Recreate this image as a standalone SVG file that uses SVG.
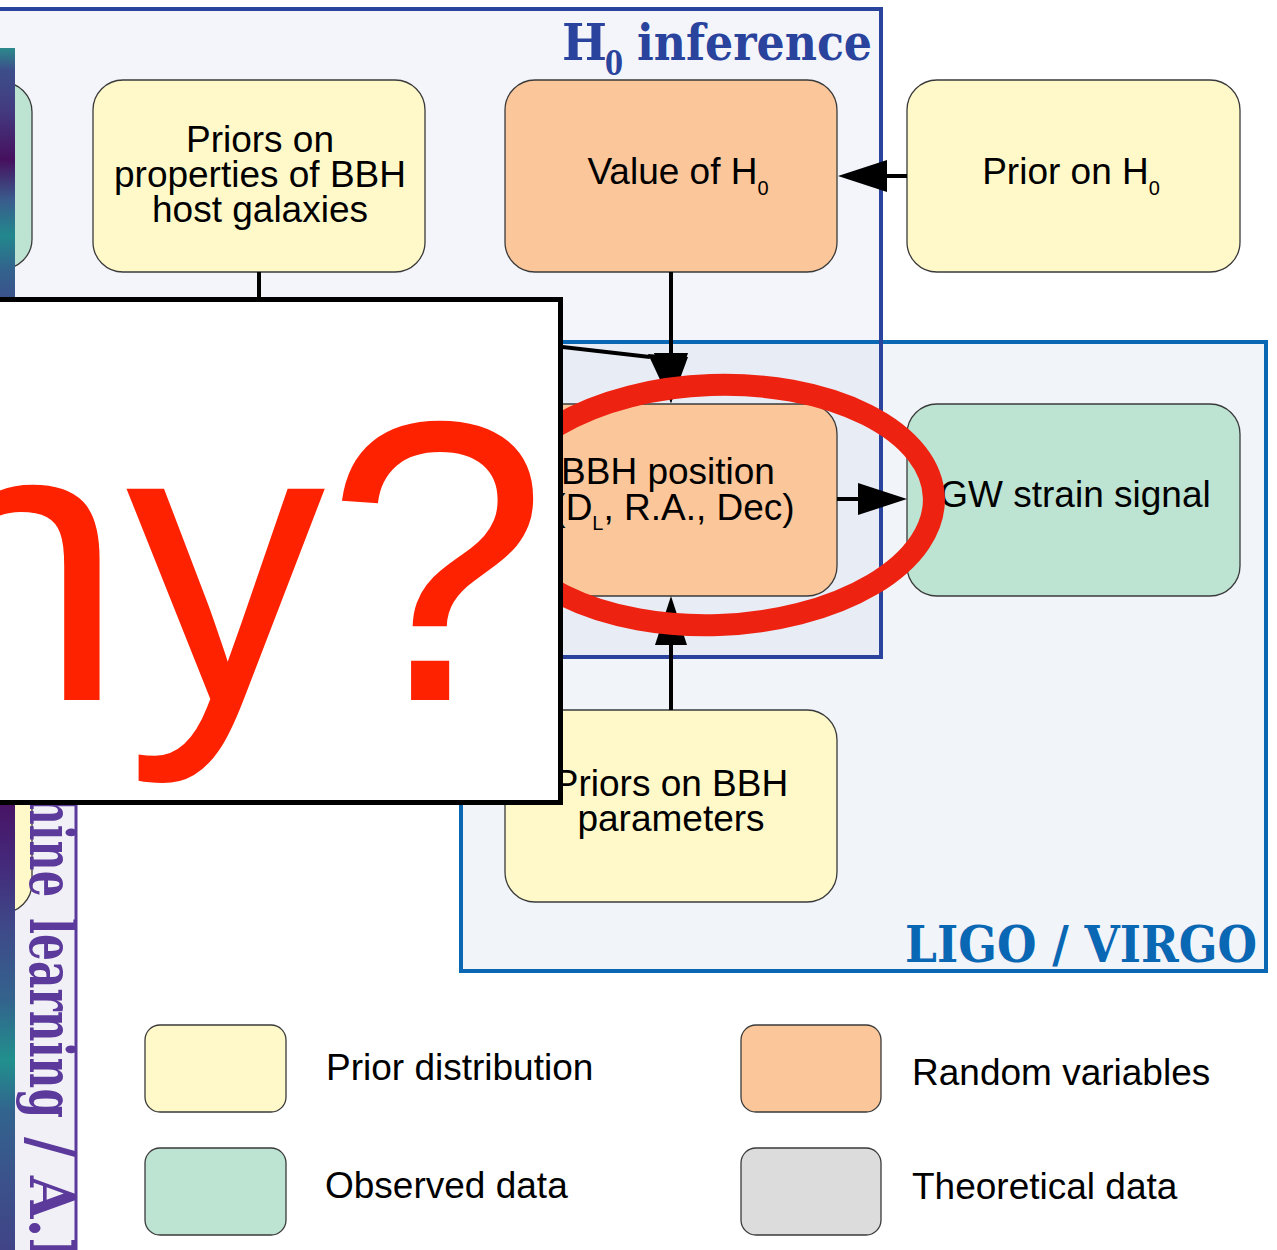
<svg xmlns="http://www.w3.org/2000/svg" width="1277" height="1250" viewBox="0 0 1277 1250">
<defs>
<style>
.node{stroke:#3a3a3a;stroke-width:1.3}
.prior{fill:#fff9c9}
.rv{fill:#fbc79a}
.obs{fill:#bde3d3}
.theo{fill:#dcdcdc}
.lbl{font-family:"Liberation Sans",Arial,sans-serif;font-size:37px;fill:#000}
.mid{text-anchor:middle}
.sub{font-size:20px}
.conn{stroke:#000;stroke-width:4;fill:none}
.head{fill:#000}
.title{font-family:"DejaVu Serif","Liberation Serif",serif;font-weight:bold;font-size:50px}
</style>
<linearGradient id="strip" gradientUnits="userSpaceOnUse" x1="0" y1="48" x2="0" y2="1250">
<stop offset="0" stop-color="#2b8a8c"/>
<stop offset="0.018" stop-color="#3c4f8a"/>
<stop offset="0.052" stop-color="#433a80"/>
<stop offset="0.093" stop-color="#46105e"/>
<stop offset="0.126" stop-color="#3a5b8c"/>
<stop offset="0.156" stop-color="#22888d"/>
<stop offset="0.185" stop-color="#33628d"/>
<stop offset="0.208" stop-color="#3b528b"/>
<stop offset="0.418" stop-color="#2d708e"/>
<stop offset="0.63" stop-color="#481466"/>
<stop offset="0.676" stop-color="#44287a"/>
<stop offset="0.734" stop-color="#3e4a89"/>
<stop offset="0.792" stop-color="#33638d"/>
<stop offset="0.842" stop-color="#21908d"/>
<stop offset="0.884" stop-color="#32648e"/>
<stop offset="0.942" stop-color="#3b528b"/>
<stop offset="1" stop-color="#414487"/>
</linearGradient>
<clipPath id="mlclip"><rect x="15" y="300" width="60" height="960"/></clipPath>
</defs>
<rect x="0" y="0" width="1277" height="1250" fill="#ffffff"/>

<g id="regions">
<rect x="461" y="342" width="805" height="629" fill="#f1f4f9"/>
<rect x="-60" y="9" width="941" height="648" fill="#f4f5fa"/>
<rect x="461" y="342" width="420" height="315" fill="#e8ecf5"/>
<rect x="461" y="342" width="805" height="629" fill="none" stroke="#0a67b4" stroke-width="4"/>
<rect x="-60" y="9" width="941" height="648" fill="none" stroke="#2a449e" stroke-width="4"/>
<text class="title" x="562" y="60" fill="#2a449e" textLength="45" lengthAdjust="spacingAndGlyphs">H</text>
<text class="title" x="605" y="75" fill="#2a449e" style="font-size:33px" textLength="18" lengthAdjust="spacingAndGlyphs">0</text>
<text class="title" x="637" y="60" fill="#2a449e" textLength="235" lengthAdjust="spacingAndGlyphs">inference</text>
<text class="title" x="905" y="962" fill="#0a67b4" textLength="352" lengthAdjust="spacingAndGlyphs">LIGO / VIRGO</text>
</g>

<g id="ml-panel">
<rect x="-100" y="600" width="176" height="800" fill="#f2f0f7" stroke="#5b3a9c" stroke-width="3"/>
</g>

<g id="node-left-observed">
<rect class="node obs" x="-301" y="82" width="333" height="187" rx="30"/>
</g>
<g id="node-left-prior">
<rect class="node prior" x="-301" y="721" width="333" height="192" rx="30"/>
</g>

<g id="ml-label" clip-path="url(#mlclip)">
<text class="title" transform="translate(30,697) rotate(90)" fill="#5b3a9c" style="font-size:62px" textLength="200" lengthAdjust="spacingAndGlyphs">Machine</text>
<text class="title" transform="translate(30,918) rotate(90)" fill="#5b3a9c" style="font-size:62px" textLength="200" lengthAdjust="spacingAndGlyphs">learning</text>
<text class="title" transform="translate(30,1137) rotate(90)" fill="#5b3a9c" style="font-size:62px" textLength="145" lengthAdjust="spacingAndGlyphs">/ A.I.</text>
</g>

<g id="node-host-priors">
<rect class="node prior" x="93" y="80" width="332" height="192" rx="30"/>
<text class="lbl mid" x="260" y="152">Priors on</text>
<text class="lbl mid" x="260" y="187">properties of BBH</text>
<text class="lbl mid" x="260" y="222">host galaxies</text>
</g>

<g id="node-value-h0">
<rect class="node rv" x="505" y="80" width="332" height="192" rx="30"/>
<text class="lbl mid" x="678" y="184">Value of H<tspan class="sub" dy="11">0</tspan></text>
</g>

<g id="node-prior-h0">
<rect class="node prior" x="907" y="80" width="333" height="192" rx="30"/>
<text class="lbl mid" x="1071" y="184">Prior on H<tspan class="sub" dy="11">0</tspan></text>
</g>

<g id="node-bbh-position">
<rect class="node rv" x="505" y="404" width="332" height="192" rx="30"/>
<text class="lbl mid" x="668" y="484">BBH position</text>
<text class="lbl mid" x="674" y="520">(D<tspan class="sub" dy="10">L</tspan><tspan dy="-10">, R.A., Dec)</tspan></text>
</g>

<g id="node-gw-strain">
<rect class="node obs" x="907" y="404" width="333" height="192" rx="30"/>
<text class="lbl mid" x="1075" y="507">GW strain signal</text>
</g>

<g id="node-bbh-priors">
<rect class="node prior" x="505" y="710" width="332" height="192" rx="30"/>
<text class="lbl mid" x="671" y="796">Priors on BBH</text>
<text class="lbl mid" x="671" y="831">parameters</text>
</g>

<g id="connectors">
<line class="conn" x1="907" y1="176" x2="880" y2="176"/>
<polygon class="head" points="838,176 887,160 887,192"/>
<line class="conn" x1="671" y1="272" x2="671" y2="360"/>
<path class="conn" d="M259,272 V312 L650,357"/>
<polygon class="head" points="648,354 688,357 671,403"/>
<polygon class="head" points="671,403 654,353 688,353"/>
<line class="conn" x1="837" y1="499" x2="862" y2="499"/>
<polygon class="head" points="907,499 858,483 858,515"/>
<line class="conn" x1="671" y1="710" x2="671" y2="640"/>
<polygon class="head" points="671,596 655,645 687,645"/>
</g>

<g id="legend">
<g id="legend-prior">
<rect class="node prior" x="145" y="1025" width="141" height="87" rx="15"/>
<text class="lbl" x="326" y="1080">Prior distribution</text>
</g>
<g id="legend-observed">
<rect class="node obs" x="145" y="1148" width="141" height="87" rx="15"/>
<text class="lbl" x="325" y="1198">Observed data</text>
</g>
<g id="legend-random">
<rect class="node rv" x="741" y="1025" width="140" height="87" rx="15"/>
<text class="lbl" x="912" y="1085">Random variables</text>
</g>
<g id="legend-theoretical">
<rect class="node theo" x="741" y="1148" width="140" height="87" rx="15"/>
<text class="lbl" x="912" y="1199">Theoretical data</text>
</g>
</g>

<g id="highlight">
<ellipse cx="715" cy="505" rx="219" ry="120" transform="rotate(-2 715 505)" fill="none" stroke="#ee2211" stroke-width="22"/>
</g>

<rect id="color-strip" x="0" y="48" width="15" height="1202" fill="url(#strip)"/>

<g id="overlay">
<rect x="-10" y="299.5" width="570.5" height="503" fill="#ffffff" stroke="#000000" stroke-width="5"/>
<text x="548" y="700" text-anchor="end" font-family="'Liberation Sans',Arial,sans-serif" font-size="400" fill="#ff2200">Why?</text>
</g>
</svg>
